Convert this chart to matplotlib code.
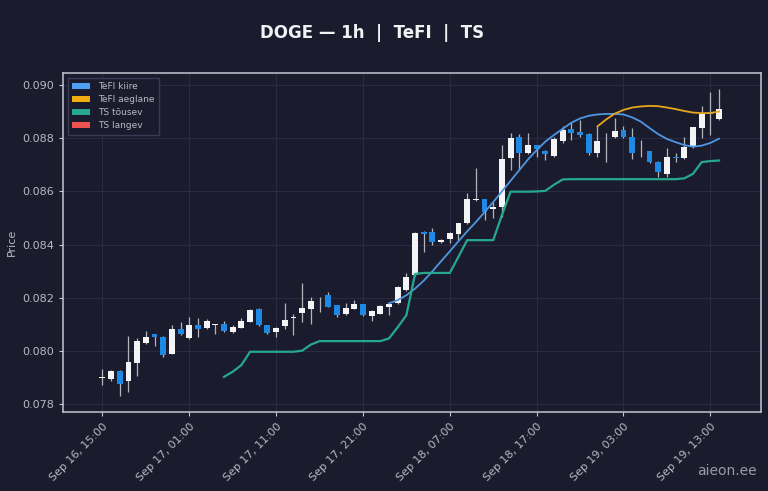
import numpy as np
import pandas as pd
import matplotlib
matplotlib.use("Agg")
from matplotlib import pyplot as plt
from matplotlib.patches import Patch

# hourly candles, Sep 16 15:00 .. Sep 19 14:00
times = pd.date_range("2024-09-16 15:00", periods=72, freq="h")

opens = [0.07900, 0.07897, 0.07925, 0.07890, 0.07954, 0.08029, 0.08063, 0.08054,
         0.07991, 0.08085, 0.08048, 0.08098, 0.08086, 0.08097, 0.08104, 0.08073,
         0.08089, 0.08111, 0.08157, 0.08098, 0.08071, 0.08094, 0.08126, 0.08144,
         0.08157, 0.08198, 0.08211, 0.08173, 0.08138, 0.08159, 0.08177, 0.08134,
         0.08140, 0.08165, 0.08182, 0.08229, 0.08286, 0.08449, 0.08449, 0.08409,
         0.08420, 0.08440, 0.08480, 0.08568, 0.08570, 0.08533, 0.08540, 0.08724,
         0.08803, 0.08743, 0.08774, 0.08752, 0.08733, 0.08790, 0.08834, 0.08822,
         0.08816, 0.08746, 0.08789, 0.08803, 0.08831, 0.08806, 0.08780, 0.08750,
         0.08712, 0.08666, 0.08728, 0.08724, 0.08771, 0.08837, 0.08899, 0.08872]
highs = [0.07932, 0.07928, 0.07930, 0.08058, 0.08050, 0.08075, 0.08066, 0.08056,
         0.08098, 0.08108, 0.08129, 0.08123, 0.08121, 0.08104, 0.08112, 0.08098,
         0.08123, 0.08157, 0.08161, 0.08100, 0.08092, 0.08180, 0.08140, 0.08255,
         0.08205, 0.08202, 0.08223, 0.08175, 0.08180, 0.08192, 0.08179, 0.08153,
         0.08172, 0.08182, 0.08244, 0.08295, 0.08448, 0.08452, 0.08461, 0.08420,
         0.08446, 0.08482, 0.08593, 0.08687, 0.08572, 0.08561, 0.08774, 0.08818,
         0.08815, 0.08821, 0.08776, 0.08755, 0.08806, 0.08844, 0.08859, 0.08869,
         0.08818, 0.08844, 0.08819, 0.08875, 0.08845, 0.08838, 0.08794, 0.08752,
         0.08714, 0.08762, 0.08745, 0.08806, 0.08843, 0.08919, 0.08975, 0.08984]
lows = [0.07872, 0.07890, 0.07831, 0.07847, 0.07906, 0.08026, 0.08020, 0.07979,
        0.07988, 0.08060, 0.08045, 0.08054, 0.08084, 0.08064, 0.08072, 0.08070,
        0.08087, 0.08109, 0.08095, 0.08063, 0.08052, 0.08085, 0.08060, 0.08111,
        0.08102, 0.08148, 0.08165, 0.08130, 0.08136, 0.08157, 0.08134, 0.08114,
        0.08138, 0.08135, 0.08178, 0.08227, 0.08284, 0.08373, 0.08398, 0.08405,
        0.08405, 0.08418, 0.08478, 0.08565, 0.08493, 0.08499, 0.08505, 0.08681,
        0.08681, 0.08741, 0.08730, 0.08718, 0.08730, 0.08780, 0.08794, 0.08803,
        0.08737, 0.08728, 0.08712, 0.08800, 0.08800, 0.08721, 0.08728, 0.08706,
        0.08653, 0.08655, 0.08712, 0.08720, 0.08762, 0.08800, 0.08812, 0.08870]
closes = [0.07902, 0.07925, 0.07876, 0.07960, 0.08038, 0.08054, 0.08054, 0.07985,
          0.08085, 0.08063, 0.08098, 0.08083, 0.08113, 0.08102, 0.08075, 0.08092,
          0.08114, 0.08154, 0.08098, 0.08070, 0.08086, 0.08117, 0.08128, 0.08164,
          0.08190, 0.08199, 0.08167, 0.08136, 0.08164, 0.08177, 0.08136, 0.08151,
          0.08170, 0.08178, 0.08240, 0.08279, 0.08445, 0.08440, 0.08411, 0.08417,
          0.08442, 0.08480, 0.08570, 0.08572, 0.08524, 0.08540, 0.08720, 0.08799,
          0.08743, 0.08774, 0.08758, 0.08740, 0.08796, 0.08829, 0.08821, 0.08810,
          0.08743, 0.08791, 0.08791, 0.08828, 0.08803, 0.08743, 0.08781, 0.08712,
          0.08674, 0.08729, 0.08726, 0.08766, 0.08840, 0.08890, 0.08890, 0.08909]

nan = np.nan
# TeFI kiire from candle 33, TeFI aeglane from candle 57, TS tousev from candle 14
tefi_fast = [nan] * 33 + [
    0.08180, 0.08192, 0.08210, 0.08235, 0.08265, 0.08300, 0.08338, 0.08375,
    0.08413, 0.08450, 0.08485, 0.08522, 0.08560, 0.08600, 0.08640, 0.08680,
    0.08720, 0.08755, 0.08787, 0.08812, 0.08835, 0.08858, 0.08874, 0.08884,
    0.08889, 0.08891, 0.08891, 0.08889, 0.08878, 0.08862, 0.08838, 0.08815,
    0.08797, 0.08785, 0.08774, 0.08768, 0.08772, 0.08782, 0.08798]
tefi_slow = [nan] * 57 + [
    0.08844, 0.08870, 0.08892, 0.08906, 0.08915, 0.08919, 0.08921, 0.08920,
    0.08915, 0.08909, 0.08902, 0.08896, 0.08894, 0.08894, 0.08900]
ts_up = [nan] * 14 + [
    0.07904, 0.07923, 0.07948, 0.07998, 0.07998, 0.07998, 0.07998, 0.07998,
    0.07998, 0.08002, 0.08025, 0.08038, 0.08038, 0.08038, 0.08038, 0.08038,
    0.08038, 0.08038, 0.08038, 0.08048, 0.08090, 0.08135, 0.08290, 0.08294,
    0.08294, 0.08294, 0.08294, 0.08355, 0.08417, 0.08417, 0.08417, 0.08417,
    0.08511, 0.08599, 0.08599, 0.08599, 0.08600, 0.08602, 0.08625, 0.08645,
    0.08646, 0.08646, 0.08646, 0.08646, 0.08646, 0.08646, 0.08646, 0.08646,
    0.08646, 0.08646, 0.08646, 0.08646, 0.08646, 0.08649, 0.08666, 0.08710,
    0.08714, 0.08716]

BG = "#1b1b2e"
UP = "#f4f4f6"
DOWN = "#1e88e5"
WICK = "#b4b4bc"
C_FAST = "#4f97e0"
C_SLOW = "#e8a61c"
C_TSUP = "#26a88e"
C_TSDN = "#ef5350"
TXT = "#b8b8c4"

fig = plt.figure(figsize=(7.68, 4.91), dpi=100, facecolor=BG)
ax = fig.add_axes([0.0825, 0.161, 0.908, 0.690], facecolor=BG)

x = np.arange(len(times))
o = np.array(opens)
c = np.array(closes)
up = c >= o

ax.vlines(x, lows, highs, color=WICK, linewidth=0.9, zorder=2)
body = np.abs(c - o)
body = np.maximum(body, 0.000012)
ax.bar(x, body, bottom=np.minimum(o, c), width=0.68,
       color=np.where(up, UP, DOWN), edgecolor="none", zorder=3)

ax.plot(x, tefi_fast, color=C_FAST, linewidth=1.3, zorder=4)
ax.plot(x, tefi_slow, color=C_SLOW, linewidth=1.3, zorder=4)
ax.plot(x, ts_up, color=C_TSUP, linewidth=1.6, zorder=4)

ax.set_xlim(-4.5, 75.8)
ax.set_ylim(0.07772, 0.09044)
ax.set_yticks(np.arange(0.078, 0.0901, 0.002))
ax.yaxis.set_major_formatter(plt.FuncFormatter(lambda v, p: "%.3f" % v))
tick_idx = list(range(0, 72, 10))
ax.set_xticks(tick_idx)
ax.set_xticklabels([times[i].strftime("%b %d, %H:%M") for i in tick_idx],
                   rotation=45, ha="right", rotation_mode="anchor")

ax.grid(True, color="#2b2b45", linewidth=0.7)
ax.set_axisbelow(True)
for s in ax.spines.values():
    s.set_color("#c4c4d0")
    s.set_linewidth(1.1)
ax.tick_params(colors=TXT, labelsize=8, length=3, color="#c4c4d0")
ax.set_ylabel("Price", color=TXT, fontsize=8)

handles = [Patch(facecolor="#4d9ff5", label="TeFI kiire"),
           Patch(facecolor="#f0ac10", label="TeFI aeglane"),
           Patch(facecolor=C_TSUP, label="TS tõusev"),
           Patch(facecolor=C_TSDN, label="TS langev")]
leg = ax.legend(handles=handles, loc="upper left", fontsize=6.5,
                facecolor=BG, edgecolor="#3a3a55", labelcolor=TXT,
                framealpha=1.0, fancybox=False, handlelength=2.0,
                borderpad=0.5, labelspacing=0.45)

fig.text(0.484, 0.932, "DOGE — 1h  |  TeFI  |  TS", color="#f2f2f5",
         fontsize=12, fontweight="bold", ha="center", va="center")
fig.text(0.985, 0.04, "aieon.ee", color="#9a9aa6", fontsize=10,
         ha="right", va="center")

fig.savefig("out.png", dpi=100, facecolor=BG)
